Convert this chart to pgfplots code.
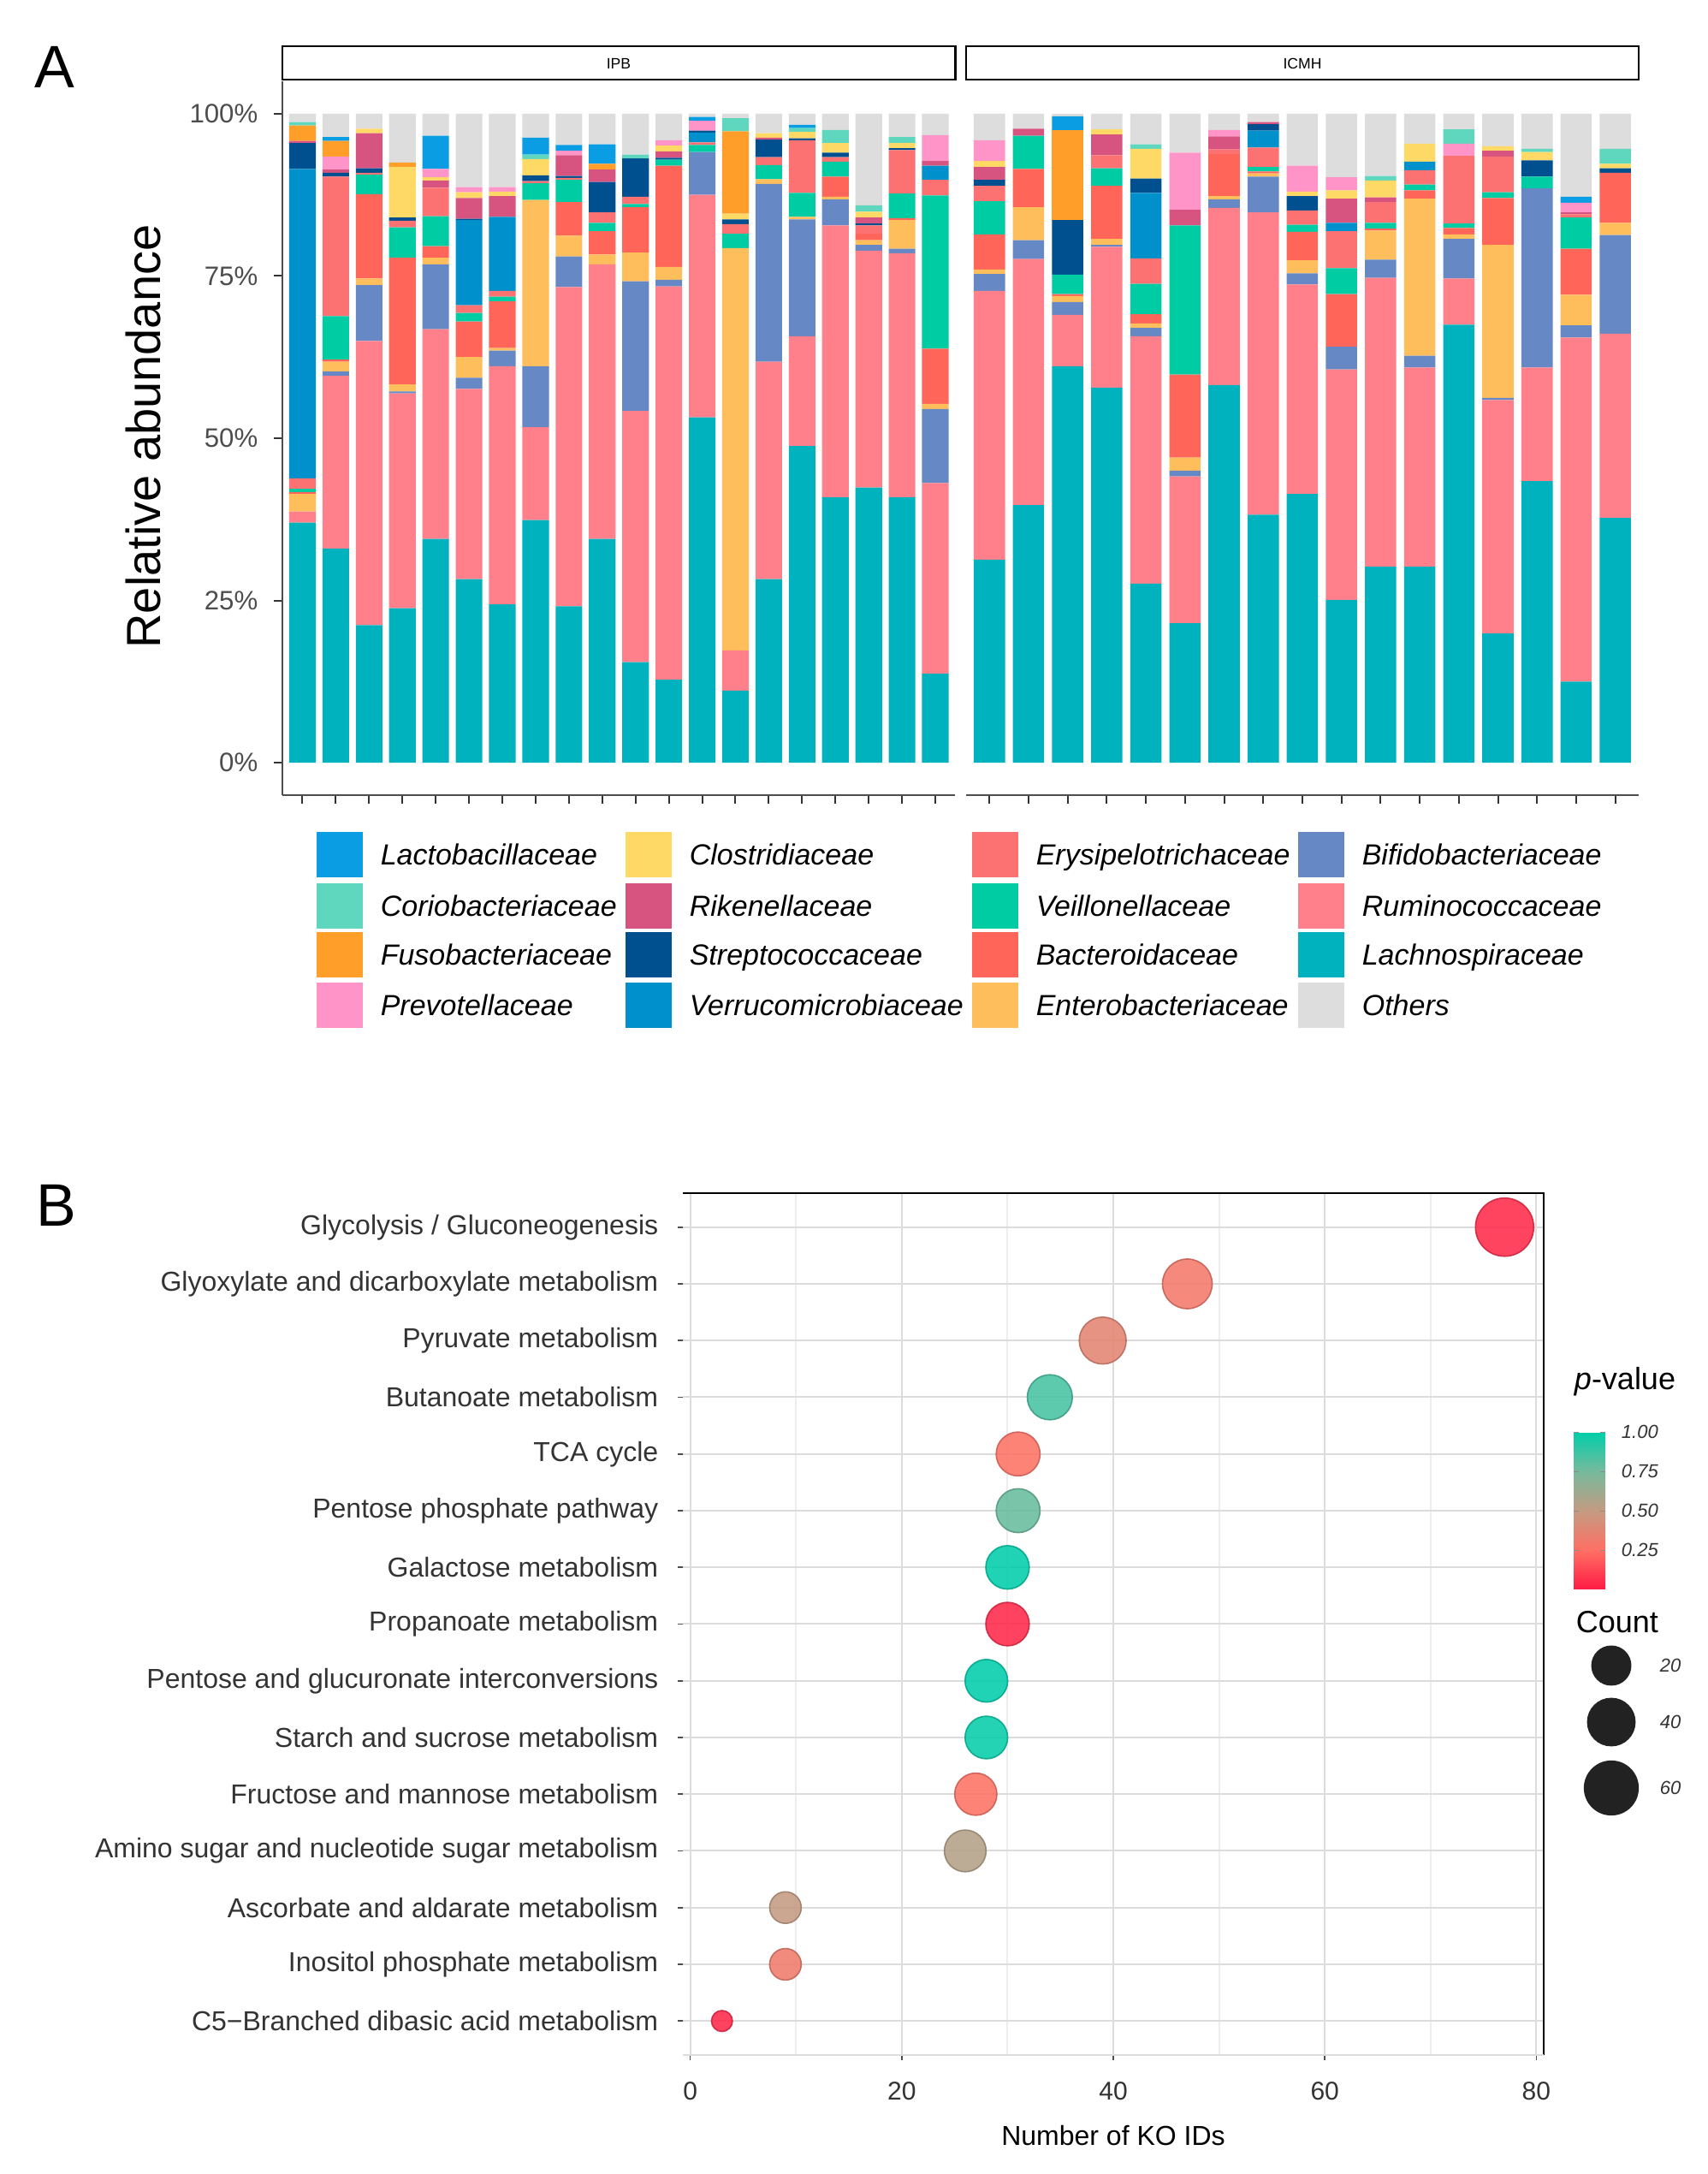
\documentclass[border=0pt]{standalone}
\usepackage{fontspec}
\setmainfont{Liberation Sans}
\usepackage{pgfplots}
\usepackage{pgfplotstable}
\pgfplotsset{compat=1.18}
\usetikzlibrary{calc}

% family colours
\definecolor{cLach}{HTML}{00B2BD}
\definecolor{cRum}{HTML}{FF808A}
\definecolor{cBif}{HTML}{6688C4}
\definecolor{cEnt}{HTML}{FFBE5C}
\definecolor{cBac}{HTML}{FF6659}
\definecolor{cVei}{HTML}{00CCA4}
\definecolor{cEry}{HTML}{FC7272}
\definecolor{cVer}{HTML}{0090CC}
\definecolor{cStr}{HTML}{00508F}
\definecolor{cRik}{HTML}{D6547F}
\definecolor{cClo}{HTML}{FFD966}
\definecolor{cPre}{HTML}{FF94C8}
\definecolor{cFus}{HTML}{FF9F29}
\definecolor{cCor}{HTML}{5FD6BE}
\definecolor{cLac}{HTML}{0A9DE3}
\definecolor{cOth}{HTML}{DDDDDD}
\definecolor{c333}{HTML}{333333}
\definecolor{c4d}{HTML}{4D4D4D}
\definecolor{cGrid}{HTML}{DCDCDC}
\definecolor{cGridMin}{HTML}{EDEDED}
\definecolor{cDot}{HTML}{222222}

\pgfplotsset{colormap={pval}{rgb255=(255,26,69) rgb255=(255,112,100) rgb255=(196,155,130) rgb255=(118,186,156) rgb255=(0,206,170)}}

% relative abundance (%), bottom to top of each bar
\pgfplotstableread{
s Lach Rum Bif Ent Bac Vei Ery Ver Str Rik Clo Pre Fus Cor Lac Oth
1 37.0 1.7 0 2.7 0.3 0.5 1.6 47.7 4.0 0.3 0 0 2.4 0.5 0 1.3
2 33.0 26.6 0.7 1.5 0.3 6.7 21.5 0 0.6 0.5 0 2.0 2.4 0 0.6 3.6
3 21.2 43.8 8.6 1.0 13.0 3.0 0.3 0 0.7 5.4 0.7 0 0 0 0 2.3
4 23.8 33.1 0.3 1.1 19.5 4.7 1.0 0 0.5 0 7.8 0 0.7 0 0 7.5
5 34.5 32.3 10.0 1.0 1.8 4.6 4.4 0 0 1.1 0.5 1.3 0 0 5.1 3.4
6 28.3 29.3 1.7 3.2 5.5 1.3 1.2 13.1 0.2 3.2 0.9 0.8 0 0 0 11.3
7 24.4 36.7 2.4 0.4 7.2 0.7 0.9 11.4 0 3.2 0.7 0.7 0 0 0 11.3
8 37.4 14.3 9.4 25.6 0 2.6 0.3 0 0.9 0 2.5 0 0 0.7 2.6 3.7
9 24.1 49.2 4.7 3.2 5.2 3.4 0.3 0 0.3 3.2 0 0.7 0 0 0.9 4.8
10 34.5 42.3 0 1.5 3.6 1.3 1.6 0 4.7 1.9 0 0 0.9 0 3.0 4.7
11 15.5 38.7 20.0 4.4 7.0 0.5 1.1 0 5.9 0 0 0 0 0.6 0 6.3
12 12.8 60.6 1.0 2.0 15.6 0.9 0 0 0.3 1.0 0.9 0.8 0 0 0 4.1
13 53.2 34.3 6.6 0 0 1.1 0.4 1.5 0.3 0 0 1.5 0 0 0.6 0.5
14 11.1 6.2 0 62.0 0 2.2 1.5 0 0.7 0 0.9 0 12.7 2.0 0 0.7
15 28.3 33.5 27.4 0.7 0 2.2 1.2 0 2.7 0.3 0.7 0 0 0 0 3.0
16 48.8 16.9 18.0 0.4 0 3.7 8.1 0 0.3 0 1.0 0 0 0.6 0.5 1.7
17 40.9 41.9 4.0 0.4 3.1 2.3 0.7 0 0.7 0 1.5 0 0 2.0 0 2.5
18 42.4 36.5 0.9 0.7 1.0 0 1.3 0 0.3 0.9 0.9 0 0 1.0 0 14.1
19 40.9 37.6 0.7 4.4 0.3 3.8 6.7 0 0.3 0 0.8 0 0 0.9 0 3.6
20 13.7 29.4 11.4 0.8 8.5 23.6 2.4 2.2 0 0.7 0 4.0 0 0 0 3.3
}\ipb

\pgfplotstableread{
s Lach Rum Bif Ent Bac Vei Ery Ver Str Rik Clo Pre Fus Cor Lac Oth
1 31.3 41.4 2.6 0.7 5.4 5.1 2.4 0 0.9 2.0 0.9 3.2 0 0 0 4.1
2 39.7 37.9 2.9 5.1 5.9 5.1 0 0 0 1.1 0 0 0 0 0 2.3
3 61.1 7.9 2.0 0.9 0.3 3.0 0 0 8.4 0 0 0 13.9 0 2.1 0.4
4 57.8 21.7 0.3 0.9 8.2 2.7 2.0 0 0 3.2 0.8 0 0 0 0 2.4
5 27.6 38.1 1.3 0.7 1.4 4.7 3.9 10.1 2.2 0 4.6 0 0 0.7 0 4.7
6 21.5 22.6 0.9 2.0 12.8 23.0 0 0 0 2.4 0 8.8 0 0 0 6.0
7 58.2 27.3 1.3 0.5 6.5 0 0.7 0 0 2.0 0 1.0 0 0 0 2.5
8 38.2 46.6 5.5 0.5 0.3 0.7 3.0 2.6 1.0 0.3 0 0 0 0 0 1.3
9 41.4 32.3 1.7 2.0 4.4 1.1 2.2 0 2.2 0 0.7 4.0 0 0 0 8.0
10 25.1 35.5 3.5 0 8.1 4.0 5.7 1.3 0 3.7 1.3 2.0 0 0 0 9.8
11 30.2 44.5 2.8 4.5 0.3 0.9 3.2 0 0 0.7 2.6 0 0 0.7 0 9.6
12 30.2 30.7 1.8 24.2 1.3 0.9 2.2 1.3 0 0 2.8 0 0 0 0 4.6
13 67.5 7.1 6.1 0.7 1.0 0.7 10.4 0 0 0 0 1.9 0 2.2 0 2.4
14 19.9 36.0 0.3 23.6 7.2 0.9 5.5 0 0 0.9 0.7 0 0 0 0 5.0
15 43.4 17.5 27.6 0 0 1.8 0 0 2.5 0 1.3 0 0 0.5 0 5.4
16 12.5 53.0 1.9 4.7 7.1 4.8 0.5 0 0 0.3 0 1.5 0 0 0.9 12.8
17 37.7 28.4 15.2 1.9 7.7 0 0 0 0.7 0 0.7 0 0 2.3 0 5.4
}\icmh

% KEGG pathways: position, number of KO IDs, p-value
\pgfplotstableread{
y n p
15 77 0.05
14 47 0.30
13 39 0.37
12 34 0.85
11 31 0.26
10 31 0.78
9 30 1.00
8 30 0.04
7 28 1.00
6 28 0.99
5 27 0.26
4 26 0.55
3 9 0.50
2 9 0.32
1 3 0.04
}\kegg

\pgfplotstableread{
x y n
1883 -1946 20
1883 -2012 40
1883 -2089 60
}\countkey

\newcommand\stackall[1]{%
  \addplot[fill=cLach,draw=none] table[x=s,y=Lach]{#1};
  \addplot[fill=cRum,draw=none] table[x=s,y=Rum]{#1};
  \addplot[fill=cBif,draw=none] table[x=s,y=Bif]{#1};
  \addplot[fill=cEnt,draw=none] table[x=s,y=Ent]{#1};
  \addplot[fill=cBac,draw=none] table[x=s,y=Bac]{#1};
  \addplot[fill=cVei,draw=none] table[x=s,y=Vei]{#1};
  \addplot[fill=cEry,draw=none] table[x=s,y=Ery]{#1};
  \addplot[fill=cVer,draw=none] table[x=s,y=Ver]{#1};
  \addplot[fill=cStr,draw=none] table[x=s,y=Str]{#1};
  \addplot[fill=cRik,draw=none] table[x=s,y=Rik]{#1};
  \addplot[fill=cClo,draw=none] table[x=s,y=Clo]{#1};
  \addplot[fill=cPre,draw=none] table[x=s,y=Pre]{#1};
  \addplot[fill=cFus,draw=none] table[x=s,y=Fus]{#1};
  \addplot[fill=cCor,draw=none] table[x=s,y=Cor]{#1};
  \addplot[fill=cLac,draw=none] table[x=s,y=Lac]{#1};
  \addplot[fill=cOth,draw=none] table[x=s,y=Oth]{#1};
}

\newcommand\legfont{\fontsize{8.5}{10}\selectfont\itshape}
\newcommand\legkey[4]{%
  \fill[#3] (#1,#2) rectangle ++(54,53);
  \node[anchor=base west,inner sep=0pt,font=\legfont] at ({#1+74},{#2+38.5}) {#4};}

\pgfplotsset{
  panelA/.style={
    anchor=south west, scale only axis, width=196.57pt, height=208.5pt,
    ybar stacked, bar width=0.8, ymin=-5, ymax=105, xmin=0.4,
    axis x line*=bottom, clip=false,
    axis line style={color=c4d, line width=0.5pt},
    tick align=outside, major tick length=2.5pt,
    tick style={color=c333, line width=0.5pt},
    xticklabels={},
  },
}

\begin{document}
\begin{tikzpicture}
\useasboundingbox (0,0) rectangle (498.75pt,635pt);
\fill[white] (0,0) rectangle (498.75pt,635pt);

% ---------- panel A, IPB ----------
\begin{axis}[panelA, at={(82.53pt,402.75pt)}, xmax=20.6, xtick={1,...,20},
  axis y line*=left,
  ytick={0,25,50,75,100}, yticklabels={0\%,25\%,50\%,75\%,100\%},
  yticklabel style={font=\fontsize{7.8}{9}\selectfont, text=c4d, anchor=east, inner sep=0pt, xshift=-4.5pt}]
\stackall{\ipb}
\draw[line width=0.6pt, fill=white] (rel axis cs:0,1.0024) rectangle (rel axis cs:1,1.0492);
\end{axis}

% ---------- panel A, ICMH ----------
\begin{axis}[panelA, at={(282.2pt,402.75pt)}, xmax=17.6, xtick={1,...,17},
  axis y line=none, ytick=\empty]
\stackall{\icmh}
\draw[line width=0.6pt, fill=white] (rel axis cs:0,1.0024) rectangle (rel axis cs:1,1.0492);
\end{axis}

% ---------- panel B ----------
\begin{axis}[at={(199.5pt,34.75pt)}, anchor=south west, scale only axis,
  width=251.5pt, height=251.75pt,
  xmin=-0.7, xmax=80.7, ymin=0.4, ymax=15.6,
  xtick={0,20,40,60,80}, minor xtick={10,30,50,70},
  ytick={1,...,15}, xtick pos=bottom, ytick pos=left,
  yticklabels={C5−Branched dibasic acid metabolism, Inositol phosphate metabolism,
    Ascorbate and aldarate metabolism, Amino sugar and nucleotide sugar metabolism,
    Fructose and mannose metabolism, Starch and sucrose metabolism,
    Pentose and glucuronate interconversions, Propanoate metabolism,
    Galactose metabolism, Pentose phosphate pathway, TCA cycle,
    Butanoate metabolism, Pyruvate metabolism,
    Glyoxylate and dicarboxylate metabolism, Glycolysis / Gluconeogenesis},
  grid=both, major grid style={color=cGrid, line width=0.5pt},
  minor grid style={color=cGridMin, line width=0.5pt},
  axis line style={draw=none},
  tick align=outside, major tick length=1.5pt, minor tick length=0pt,
  tick style={color=c4d, line width=0.4pt},
  /pgf/number format/assume math mode=true,
  yticklabel style={font=\fontsize{8}{9}\selectfont, text=c333, anchor=east, inner sep=0pt, xshift=-5.5pt},
  xticklabel style={font=\fontsize{7.5}{9}\selectfont, text=c333, anchor=center, inner sep=0pt, yshift=-9pt},
  xlabel={Number of KO IDs},
  xlabel style={font=\fontsize{8}{9}\selectfont, at={(axis description cs:0.5,0)}, anchor=center, yshift=-23.5pt},
  point meta min=0, point meta max=1, colormap name=pval,
  colorbar,
  colorbar style={
    at={($(parent axis.north east)+(0.25pt,-69.75pt)$)}, anchor=north west,
    scale only axis, width=9.25pt, height=46pt,
    axis line style={draw=none}, grid=none,
    ytick={0.25,0.5,0.75,1}, yticklabels={0.25,0.50,0.75,1.00},
    ytick pos=both, yticklabel pos=right,
    yticklabel style={font=\fontsize{5.5}{6}\selectfont\itshape, text=c333, anchor=west, inner sep=0pt, xshift=4.5pt},
    tick align=inside, major tick length=1.5pt, tick style={color=black!45},
    title={\textit{p}-value},
    title style={at={(0,1)}, anchor=base west, inner sep=0pt, yshift=6.25pt, font=\fontsize{9}{10}\selectfont},
  },
  clip=false]
\addplot[scatter, only marks, mark=*, point meta=\thisrow{p},
  visualization depends on={\thisrow{n}\as\cnt},
  scatter/@pre marker code/.append style={/tikz/mark size={(24.5+43.5*sqrt((\cnt-3)/74))/8}},
  mark options={draw opacity=0.88, fill opacity=0.88}]
  table[x=n,y=y]{\kegg};
\draw[black, line width=0.6pt] (rel axis cs:0,1) -- (rel axis cs:1,1) -- (rel axis cs:1,0);
\draw[cGrid, line width=0.5pt] (rel axis cs:0,0) -- (rel axis cs:1,0);
\end{axis}

% ---------- size legend ----------
\begin{axis}[at={(460pt,100pt)}, anchor=south west, scale only axis,
  width=37.5pt, height=60pt, xmin=1840, xmax=1990, ymin=-2140, ymax=-1900,
  hide axis, clip=false]
\addplot[scatter, only marks, mark=*, point meta=\thisrow{n},
  scatter/use mapped color={draw=cDot, fill=cDot},
  visualization depends on={\thisrow{n}\as\cnt},
  scatter/@pre marker code/.append style={/tikz/mark size={(24.5+43.5*sqrt((\cnt-3)/74))/8}}]
  table[x=x,y=y]{\countkey};
\node[anchor=west, inner sep=0pt, font=\fontsize{5.5}{6}\selectfont\itshape, text=c333] at (axis cs:1939,-1946) {20};
\node[anchor=west, inner sep=0pt, font=\fontsize{5.5}{6}\selectfont\itshape, text=c333] at (axis cs:1939,-2012) {40};
\node[anchor=west, inner sep=0pt, font=\fontsize{5.5}{6}\selectfont\itshape, text=c333] at (axis cs:1939,-2089) {60};
\end{axis}

% ---------- texts and legend of panel A (pixel grid of the page) ----------
\begin{scope}[x=0.25pt, y=-0.25pt, shift={(0pt,635pt)}]
\node[anchor=base west, inner sep=0pt, font=\fontsize{17.5}{20}\selectfont] at (40,103) {A};
\node[anchor=base west, inner sep=0pt, font=\fontsize{17.5}{20}\selectfont] at (42,1433) {B};
\node[rotate=90, anchor=base, inner sep=0pt, font=\fontsize{14}{16}\selectfont] at (187,510) {Relative abundance};
\node[anchor=base west, inner sep=0pt, font=\fontsize{9}{10}\selectfont] at (1841,1908) {Count};
\node[inner sep=0pt, font=\fontsize{4.4}{5}\selectfont] at (723,74) {IPB};
\node[inner sep=0pt, font=\fontsize{4.4}{5}\selectfont] at (1522,74) {ICMH};

\legkey{370}{972}{cLac}{Lactobacillaceae}
\legkey{370}{1032}{cCor}{Coriobacteriaceae}
\legkey{370}{1089}{cFus}{Fusobacteriaceae}
\legkey{370}{1148}{cPre}{Prevotellaceae}
\legkey{731}{972}{cClo}{Clostridiaceae}
\legkey{731}{1032}{cRik}{Rikenellaceae}
\legkey{731}{1089}{cStr}{Streptococcaceae}
\legkey{731}{1148}{cVer}{Verrucomicrobiaceae}
\legkey{1136}{972}{cEry}{Erysipelotrichaceae}
\legkey{1136}{1032}{cVei}{Veillonellaceae}
\legkey{1136}{1089}{cBac}{Bacteroidaceae}
\legkey{1136}{1148}{cEnt}{Enterobacteriaceae}
\legkey{1517}{972}{cBif}{Bifidobacteriaceae}
\legkey{1517}{1032}{cRum}{Ruminococcaceae}
\legkey{1517}{1089}{cLach}{Lachnospiraceae}
\legkey{1517}{1148}{cOth}{Others}
\end{scope}
\end{tikzpicture}
\end{document}
